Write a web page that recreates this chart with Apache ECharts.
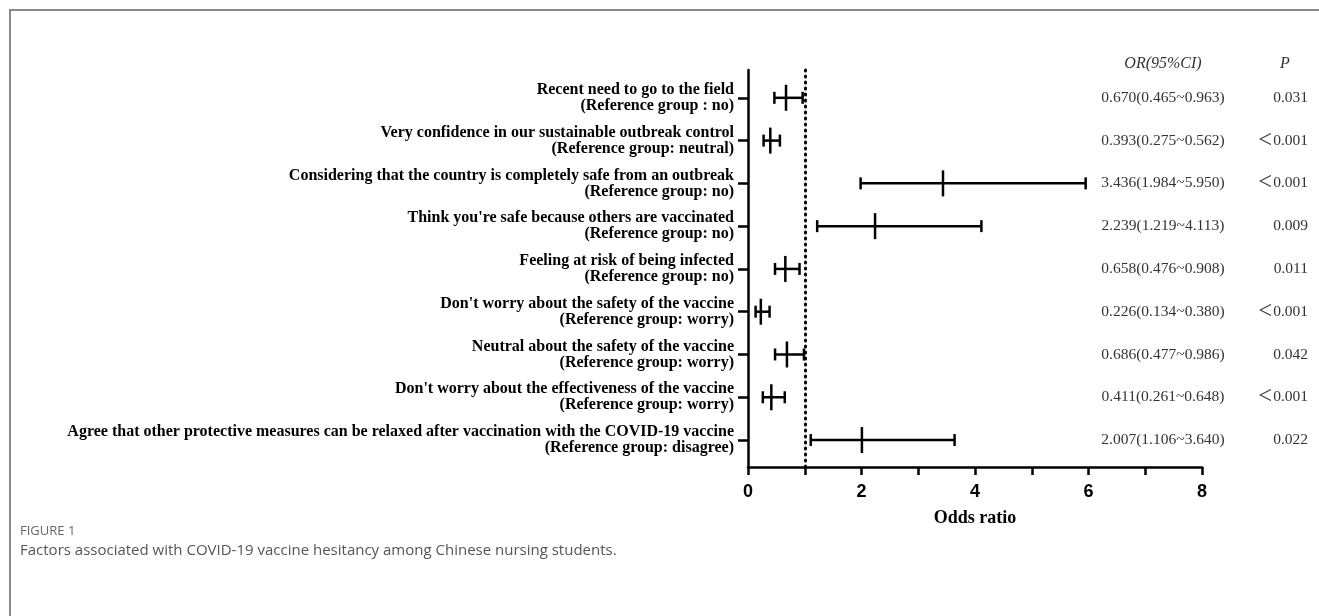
<!DOCTYPE html>
<html>
<head>
<meta charset="utf-8">
<script src="https://cdn.jsdelivr.net/npm/echarts@6/dist/echarts.min.js"></script>
<style>
  html, body { margin: 0; padding: 0; background: #fff; }
  #chart { width: 1319px; height: 616px; }
</style>
</head>
<body>
<div id="chart"></div>
<script>
// factor names (first line) and reference groups (second line), top to bottom
const factors = [
  "Recent need to go to the field",
  "Very confidence in our sustainable outbreak control",
  "Considering that the country is completely safe from an outbreak",
  "Think you're safe because others are vaccinated",
  "Feeling at risk of being infected",
  "Don't worry about the safety of the vaccine",
  "Neutral about the safety of the vaccine",
  "Don't worry about the effectiveness of the vaccine",
  "Agree that other protective measures can be relaxed after vaccination with the COVID-19 vaccine"
];
const refGroups = [
  "(Reference group : no)",
  "(Reference group: neutral)",
  "(Reference group: no)",
  "(Reference group: no)",
  "(Reference group: no)",
  "(Reference group: worry)",
  "(Reference group: worry)",
  "(Reference group: worry)",
  "(Reference group: disagree)"
];
const oddsRatio = [0.670, 0.393, 3.436, 2.239, 0.658, 0.226, 0.686, 0.411, 2.007];
const ciLower   = [0.465, 0.275, 1.984, 1.219, 0.476, 0.134, 0.477, 0.261, 1.106];
const ciUpper   = [0.963, 0.562, 5.950, 4.113, 0.908, 0.380, 0.986, 0.648, 3.640];
const pValues   = ["0.031", "＜0.001", "＜0.001", "0.009", "0.011", "＜0.001", "0.042", "＜0.001", "0.022"];
const xTickLabels = [0, 2, 4, 6, 8];

const rows = factors.map((_, i) => i + 1);
const orText = oddsRatio.map((v, i) =>
  v.toFixed(3) + "(" + ciLower[i].toFixed(3) + "~" + ciUpper[i].toFixed(3) + ")");

const serif = "'Liberation Serif', 'Times New Roman', 'Noto Sans CJK SC', serif";
const yRange = { min: 0.35, max: 9.63, inverse: true };

const chart = echarts.init(document.getElementById("chart"));

function renderCI(params, api) {
  const row = api.value(3);
  const pLo = api.coord([api.value(1), row]);
  const pHi = api.coord([api.value(2), row]);
  const pMid = api.coord([api.value(0), row]);
  const style = { stroke: "#000", lineWidth: 2.5 };
  return {
    type: "group",
    children: [
      { type: "line", shape: { x1: pLo[0], y1: pLo[1], x2: pHi[0], y2: pHi[1] }, style },
      { type: "line", shape: { x1: pLo[0], y1: pLo[1] - 6, x2: pLo[0], y2: pLo[1] + 6 }, style },
      { type: "line", shape: { x1: pHi[0], y1: pHi[1] - 6, x2: pHi[0], y2: pHi[1] + 6 }, style },
      { type: "line", shape: { x1: pMid[0], y1: pMid[1] - 13, x2: pMid[0], y2: pMid[1] + 13 }, style }
    ]
  };
}

chart.setOption({
  animation: false,
  title: {
    text: "FIGURE 1",
    subtext: "Factors associated with COVID-19 vaccine hesitancy among Chinese nursing students.",
    left: 15,
    top: 520,
    itemGap: 5,
    textStyle: { fontFamily: "'Open Sans', sans-serif", fontSize: 13, fontWeight: "normal", color: "#666" },
    subtextStyle: { fontFamily: "'Open Sans', sans-serif", fontSize: 15, color: "#555" }
  },
  graphic: [{
    type: "rect",
    shape: { x: 10, y: 10, width: 1400, height: 700 },
    style: { fill: "none", stroke: "#8a8a8a", lineWidth: 2 },
    silent: true
  }],
  grid: { left: 748, right: 117, top: 70, bottom: 149 },
  xAxis: {
    type: "value",
    min: 0,
    max: 8,
    interval: 1,
    splitLine: { show: false },
    axisLine: { lineStyle: { color: "#000", width: 2.5 } },
    axisTick: { length: 8, lineStyle: { color: "#000", width: 2.5 } },
    axisLabel: {
      margin: 16,
      fontFamily: "'Liberation Sans', Arial, sans-serif",
      fontWeight: "bold",
      fontSize: 18,
      color: "#000",
      formatter: (v) => (xTickLabels.indexOf(v) >= 0 ? String(v) : "")
    },
    name: "Odds ratio",
    nameLocation: "middle",
    nameGap: 42,
    nameTextStyle: { fontFamily: serif, fontWeight: "bold", fontSize: 18, color: "#000" }
  },
  yAxis: [
    {
      type: "value",
      ...yRange,
      splitLine: { show: false },
      axisLine: { show: true, lineStyle: { color: "#000", width: 2.5 } },
      axisTick: { show: true, customValues: rows, length: 10, lineStyle: { color: "#000", width: 2.5 } },
      axisLabel: {
        customValues: rows,
        margin: 14,
        align: "right",
        fontFamily: serif,
        fontWeight: "bold",
        fontSize: 16,
        lineHeight: 16,
        color: "#000",
        formatter: (v) => factors[v - 1] + "\n" + refGroups[v - 1]
      }
    },
    {
      type: "value",
      ...yRange,
      position: "right",
      offset: -39,
      splitLine: { show: false },
      axisLine: { show: false },
      axisTick: { show: false },
      axisLabel: {
        customValues: rows,
        margin: 0,
        align: "center",
        fontFamily: serif,
        fontSize: 15.5,
        color: "#333",
        formatter: (v) => orText[v - 1]
      },
      name: "OR(95%CI)",
      nameLocation: "start",
      nameGap: -2,
      nameTextStyle: { fontFamily: serif, fontStyle: "italic", fontSize: 16, color: "#333", verticalAlign: "bottom" }
    },
    {
      type: "value",
      ...yRange,
      position: "right",
      offset: 83,
      splitLine: { show: false },
      axisLine: { show: false },
      axisTick: { show: false },
      axisLabel: {
        customValues: rows,
        margin: 23,
        align: "right",
        fontFamily: serif,
        fontSize: 15.5,
        color: "#333",
        formatter: (v) => pValues[v - 1]
      },
      name: "P",
      nameLocation: "start",
      nameGap: -2,
      nameTextStyle: { fontFamily: serif, fontStyle: "italic", fontSize: 16, color: "#333", verticalAlign: "bottom" }
    }
  ],
  series: [{
    type: "custom",
    renderItem: renderCI,
    encode: { x: [0, 1, 2], y: 3 },
    data: oddsRatio.map((v, i) => [v, ciLower[i], ciUpper[i], rows[i]]),
    markLine: {
      silent: true,
      symbol: "none",
      label: { show: false },
      lineStyle: { color: "#000", width: 3, type: [1, 5], cap: "round" },
      data: [{ xAxis: 1 }]
    }
  }]
});
</script>
</body>
</html>
